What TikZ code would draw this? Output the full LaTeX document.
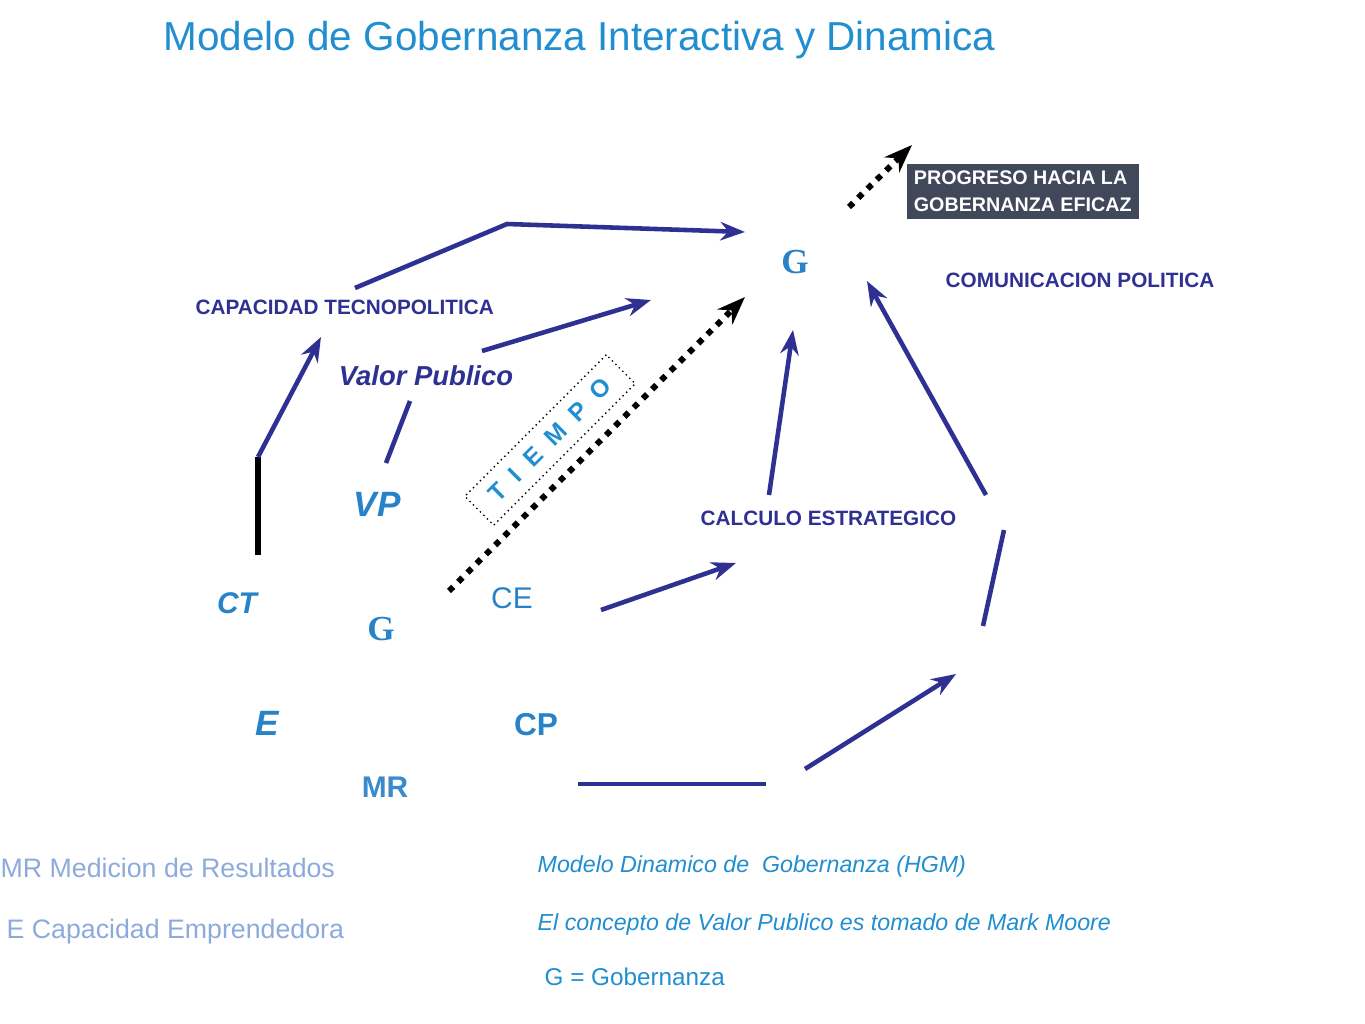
\documentclass[tikz,border=0pt]{standalone}
\usepackage{fontspec}
\setmainfont{Liberation Sans}
\newfontfamily\serifG{Liberation Serif}
\usetikzlibrary{arrows.meta}
\definecolor{titleBlue}{RGB}{33,142,208}
\definecolor{darkBlue}{RGB}{46,49,146}
\definecolor{midBlue}{RGB}{40,130,200}
\definecolor{lightBlue}{RGB}{140,170,220}
\definecolor{boxGrey}{RGB}{64,72,90}
\tikzset{
  flow/.style = {draw=darkBlue, line width=1.3pt, -{Stealth[length=7pt]}},
  flowLine/.style = {draw=darkBlue, line width=1.3pt},
  timeArrow/.style = {draw=black, line width=1.7pt, dotted, -{Stealth[length=8pt]}},
  smallLabel/.style = {text=darkBlue, font=\fontsize{5.9}{7}\selectfont\bfseries},
  bigLetter/.style = {text=midBlue, font=\fontsize{9}{10}\selectfont\bfseries},
  gLetter/.style = {text=midBlue, font=\serifG\fontsize{10}{11}\selectfont\bfseries},
  note/.style = {anchor=west, text=lightBlue, font=\fontsize{7.6}{9}\selectfont},
  credit/.style = {anchor=west, text=titleBlue, font=\fontsize{6.6}{8}\selectfont\itshape}
}
\begin{document}
\begin{tikzpicture}[x=0.01cm, y=-0.01cm]
  \useasboundingbox (0,0) rectangle (1365,1024);
  % title
  \node[anchor=west, inner sep=0pt, text=titleBlue, font=\fontsize{11.5}{14}\selectfont] (title) at (163,40) {Modelo de Gobernanza\ Interactiva\ y Dinamica};
  % labels
  \node[gLetter] (gTop) at (795,262) {G};
  \node[gLetter] (gLow) at (381,629) {G};
  \node[smallLabel, anchor=west, inner sep=0pt] (capTec) at (195,307) {CAPACIDAD\ TECNOPOLITICA};
  \node[smallLabel, anchor=west, inner sep=0pt] (comPol) at (945,280) {COMUNICACION\ POLITICA};
  \node[smallLabel, anchor=west, inner sep=0pt] (calcEst) at (700,518) {CALCULO ESTRATEGICO};
  \node[text=darkBlue, font=\fontsize{7.8}{9}\selectfont\bfseries\itshape] (valPub) at (426,376) {Valor Publico};
  \node[bigLetter, font=\fontsize{10}{11}\selectfont\bfseries\itshape] (vp) at (377,504) {VP};
  \node[bigLetter, font=\fontsize{8.5}{10}\selectfont\bfseries\itshape] (ct) at (237,603) {CT};
  \node[text=midBlue, font=\fontsize{8.5}{10}\selectfont] (ce) at (512,598) {CE};
  \node[bigLetter, font=\fontsize{10}{11}\selectfont\bfseries\itshape] (e) at (267,723) {E};
  \node[bigLetter] (cp) at (536,725) {CP};
  \node[bigLetter, font=\fontsize{8.5}{10}\selectfont\bfseries, text=midBlue!80!lightBlue] (mr) at (385,787) {MR};
  % progress box
  \node[fill=boxGrey, text=white, anchor=north west, minimum width=2.32cm, minimum height=0.55cm,
        inner sep=0pt, align=left, font=\fontsize{5.6}{7.8}\selectfont\bfseries] (progreso) at (906,163)
        {PROGRESO HACIA LA\\GOBERNANZA EFICAZ};
  % time box
  \node[draw=black, densely dotted, thin, rotate=45, minimum width=2.0cm, minimum height=0.36cm,
        text=titleBlue, font=\fontsize{7}{9}\selectfont\bfseries] (tiempo) at (550,440) {T\ \ I\ \ E\ \ M\ \ P\ \ O};
  % notes
  \node[note, inner sep=0pt] (nMR) at (0,868) {MR Medicion de Resultados};
  \node[note, inner sep=0pt] (nE) at (6,932) {E Capacidad Emprendedora};
  \node[credit, inner sep=0pt] (nHGM) at (537,866) {Modelo Dinamico de\ \ Gobernanza\ (HGM)};
  \node[credit, inner sep=0pt] (nMoore) at (537,924) {El concepto de Valor Publico es tomado de Mark Moore};
  \node[anchor=west, inner sep=0pt, text=titleBlue, font=\fontsize{6.9}{8}\selectfont] (nG) at (544,977) {G = Gobernanza};
  % connector ends
  \coordinate (a1) at (355,288); \coordinate (a2) at (507,224); \coordinate (a3) at (745,232);
  \coordinate (b1) at (482,351); \coordinate (b2) at (651,300);
  \coordinate (c1) at (410,401); \coordinate (c2) at (386,463);
  \coordinate (d1) at (258,555); \coordinate (d2) at (258,457); \coordinate (d3) at (321,337);
  \coordinate (t1) at (449,591); \coordinate (t2) at (745,297);
  \coordinate (p1) at (849,207); \coordinate (p2) at (912,145);
  \coordinate (e1) at (769,495); \coordinate (e2) at (793,330);
  \coordinate (f1) at (986,495); \coordinate (f2) at (867,281);
  \coordinate (g1) at (1004,530); \coordinate (g2) at (983,626);
  \coordinate (h1) at (805,769); \coordinate (h2) at (956,674);
  \coordinate (i1) at (578,784); \coordinate (i2) at (766,784);
  \coordinate (j1) at (601,610); \coordinate (j2) at (736,563);
  % connectors
  \draw[flow] (a1) -- (a2) -- (a3);
  \draw[flow] (b1) -- (b2);
  \draw[flowLine] (c1) -- (c2);
  \draw[black, line width=1.5pt] (d1) -- (d2);
  \draw[flow] (d2) -- (d3);
  \draw[timeArrow] (t1) -- (t2);
  \draw[timeArrow] (p1) -- (p2);
  \draw[flow] (e1) -- (e2);
  \draw[flow] (f1) -- (f2);
  \draw[flowLine] (g1) -- (g2);
  \draw[flow] (h1) -- (h2);
  \draw[flowLine] (i1) -- (i2);
  \draw[flow] (j1) -- (j2);
\end{tikzpicture}
\end{document}
